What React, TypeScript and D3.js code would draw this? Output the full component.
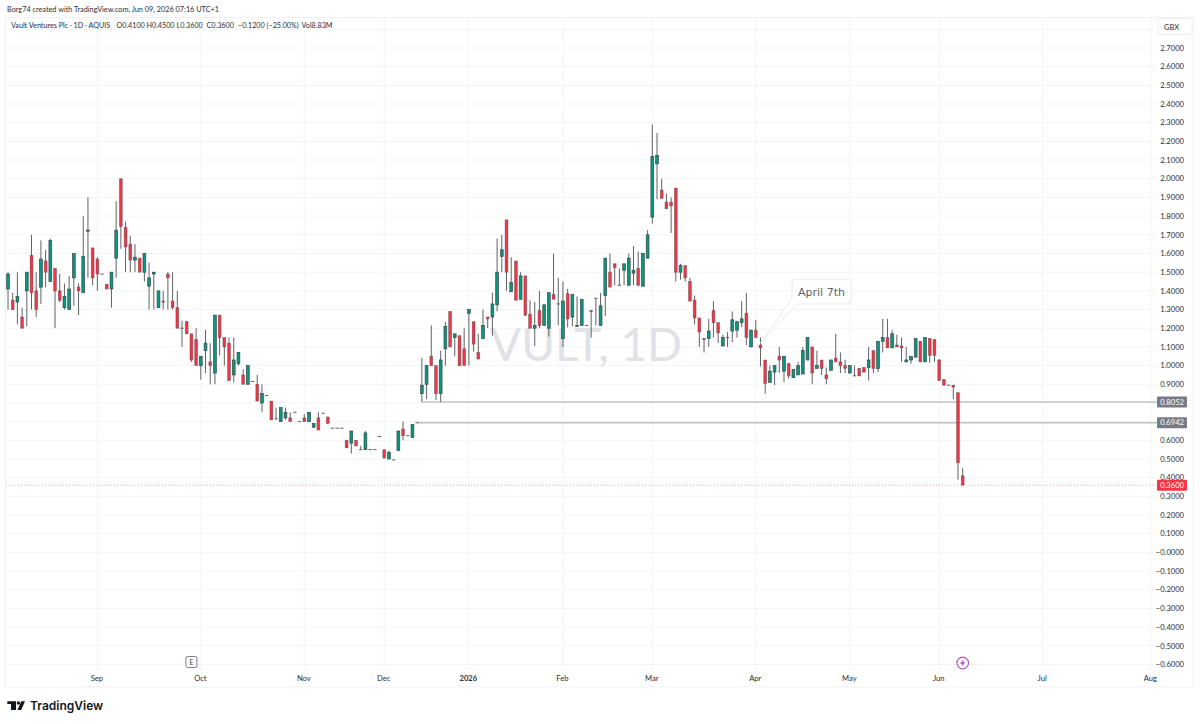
import * as d3 from "d3";

const WIDTH = 1200;
const HEIGHT = 724;
const FONT = "Lato, 'Open Sans', sans-serif";

const GREEN = "#089981";
const RED = "#f23645";
const BORDER = "#3c4043";
const GRID = "#f3f4f6";
const TEXT = "#2a2e39";

// daily candles, in blocks of ten
const opens = [
  1.41, 1.35, 1.34, 1.26, 1.4, 1.59, 1.4, 1.42, 1.56, 1.45,
  1.52, 1.4, 1.31, 1.3, 1.47, 1.42, 1.39, 1.72, 1.63, 1.57,
  1.49, 1.435, 1.41, 1.575, 2.0, 1.74, 1.65, 1.565, 1.575, 1.5,
  1.425, 1.49, 1.31, 1.345, 1.49, 1.345, 1.31, 1.2, 1.235, 1.17,
  1.14, 1.0, 1.08, 1.02, 0.96, 1.27, 1.15, 1.12, 0.95, 1.01,
  0.95, 0.9, 0.915, 0.9, 0.8, 0.84, 0.81, 0.715, 0.7, 0.72,
  0.72, 0.75, 0.7, 0.72, 0.7, 0.67, 0.72, 0.745, 0.725, 0.665,
  0.665, 0.665, 0.6, 0.585, 0.6, 0.55, 0.55, 0.55, 0.55, 0.62,
  0.55, 0.5, 0.495, 0.545, 0.66, 0.625, 0.615, 0.694, 0.85, 0.9,
  1.05, 1.0, 0.85, 1.09, 1.29, 1.15, 1.16, 1.09, 1.28, 1.235,
  1.07, 1.145, 1.26, 1.26, 1.325, 1.585, 1.78, 1.395, 1.56, 1.355,
  1.48, 1.275, 1.2, 1.295, 1.215, 1.2, 1.38, 1.33, 1.145, 1.385,
  1.26, 1.21, 1.215, 1.215, 1.295, 1.36, 1.215, 1.375, 1.5, 1.545,
  1.43, 1.51, 1.43, 1.495, 1.52, 1.425, 1.575, 1.795, 2.08, 1.94,
  1.875, 1.875, 1.95, 1.5, 1.535, 1.45, 1.35, 1.255, 1.145, 1.145,
  1.295, 1.23, 1.105, 1.15, 1.185, 1.19, 1.23, 1.28, 1.1, 1.19,
  1.11, 1.03, 0.91, 0.965, 1.05, 0.97, 1.01, 0.935, 0.95, 0.955,
  1.03, 1.1, 0.985, 1.03, 0.95, 0.975, 1.04, 1.02, 1.0, 0.96,
  0.945, 0.985, 0.99, 0.99, 1.08, 0.985, 1.13, 1.15, 1.095, 1.11,
  1.105, 1.02, 1.03, 1.045, 1.13, 1.02, 1.145, 1.14, 1.03, 0.925,
  0.895, 0.895, 0.855, 0.41,
];
const highs = [
  1.5, 1.39, 1.5, 1.31, 1.5, 1.7, 1.5, 1.67, 1.62, 1.68,
  1.52, 1.49, 1.44, 1.48, 1.6, 1.44, 1.8, 1.9, 1.63, 1.58,
  1.49, 1.435, 1.5, 1.88, 2.0, 1.77, 1.695, 1.65, 1.575, 1.6,
  1.55, 1.5, 1.4, 1.4, 1.5, 1.5, 1.4, 1.24, 1.24, 1.17,
  1.2, 1.05, 1.19, 1.12, 1.27, 1.27, 1.15, 1.15, 1.15, 1.07,
  0.98, 1.0, 0.915, 0.95, 0.9, 0.84, 0.81, 0.775, 0.775, 0.775,
  0.75, 0.75, 0.7, 0.74, 0.75, 0.69, 0.75, 0.745, 0.725, 0.665,
  0.665, 0.665, 0.6, 0.65, 0.6, 0.57, 0.65, 0.55, 0.55, 0.62,
  0.55, 0.545, 0.495, 0.65, 0.7, 0.625, 0.685, 0.694, 1.04, 1.0,
  1.215, 1.0, 1.08, 1.235, 1.29, 1.17, 1.16, 1.2, 1.3, 1.235,
  1.17, 1.3, 1.26, 1.39, 1.68, 1.7, 1.78, 1.58, 1.56, 1.5,
  1.48, 1.35, 1.34, 1.4, 1.33, 1.39, 1.6, 1.47, 1.45, 1.41,
  1.38, 1.37, 1.355, 1.215, 1.295, 1.36, 1.39, 1.575, 1.6, 1.545,
  1.52, 1.545, 1.6, 1.64, 1.61, 1.6, 1.725, 2.29, 2.245, 2.0,
  1.92, 1.9, 1.95, 1.545, 1.535, 1.47, 1.375, 1.255, 1.145, 1.25,
  1.345, 1.23, 1.165, 1.18, 1.29, 1.24, 1.345, 1.39, 1.19, 1.245,
  1.15, 1.03, 1.0, 1.0, 1.1, 1.05, 1.015, 0.98, 1.02, 1.1,
  1.15, 1.1, 1.08, 1.03, 0.99, 1.03, 1.17, 1.07, 1.03, 1.0,
  1.0, 0.985, 0.99, 1.1, 1.08, 1.13, 1.25, 1.25, 1.19, 1.165,
  1.15, 1.1, 1.05, 1.145, 1.13, 1.15, 1.145, 1.14, 1.035, 0.925,
  0.895, 0.895, 0.855, 0.45,
];
const lows = [
  1.3, 1.3, 1.22, 1.2, 1.21, 1.3, 1.26, 1.33, 1.42, 1.45,
  1.2, 1.34, 1.3, 1.3, 1.32, 1.27, 1.39, 1.47, 1.43, 1.4,
  1.49, 1.41, 1.31, 1.47, 1.625, 1.5, 1.5, 1.5, 1.5, 1.45,
  1.3, 1.3, 1.31, 1.3, 1.3, 1.3, 1.2, 1.1, 1.17, 1.02,
  1.0, 0.925, 0.96, 0.9, 0.9, 1.055, 1.0, 0.92, 0.91, 1.0,
  0.9, 0.9, 0.915, 0.81, 0.75, 0.84, 0.71, 0.71, 0.7, 0.71,
  0.7, 0.75, 0.7, 0.7, 0.7, 0.67, 0.655, 0.745, 0.69, 0.665,
  0.665, 0.665, 0.56, 0.53, 0.57, 0.55, 0.55, 0.55, 0.55, 0.62,
  0.505, 0.5, 0.495, 0.545, 0.6, 0.625, 0.615, 0.694, 0.805, 0.82,
  1.0, 0.815, 0.805, 1.0, 1.1, 1.05, 1.0, 1.0, 1.0, 1.075,
  1.035, 1.145, 1.2, 1.16, 1.29, 1.5, 1.4, 1.395, 1.35, 1.355,
  1.265, 1.2, 1.105, 1.2, 1.215, 1.155, 1.355, 1.215, 1.1, 1.205,
  1.21, 1.21, 1.215, 1.215, 1.15, 1.215, 1.215, 1.265, 1.42, 1.43,
  1.43, 1.43, 1.43, 1.43, 1.425, 1.425, 1.575, 1.76, 1.89, 1.895,
  1.84, 1.71, 1.45, 1.46, 1.45, 1.345, 1.22, 1.1, 1.07, 1.1,
  1.15, 1.12, 1.105, 1.1, 1.125, 1.15, 1.205, 1.11, 1.1, 1.15,
  0.995, 0.85, 0.91, 0.895, 0.96, 0.91, 0.93, 0.935, 0.95, 0.955,
  1.03, 0.9, 0.985, 0.95, 0.9, 0.975, 1.02, 0.96, 0.96, 0.96,
  0.945, 0.945, 0.965, 0.92, 0.96, 0.965, 1.07, 1.095, 1.095, 1.1,
  1.02, 1.02, 1.01, 1.045, 1.02, 1.02, 1.015, 1.02, 0.92, 0.895,
  0.895, 0.82, 0.39, 0.36,
];
const closes = [
  1.49, 1.3, 1.37, 1.2, 1.5, 1.39, 1.3, 1.57, 1.5, 1.67,
  1.4, 1.35, 1.37, 1.41, 1.6, 1.4, 1.585, 1.725, 1.47, 1.49,
  1.49, 1.41, 1.5, 1.725, 1.745, 1.635, 1.565, 1.58, 1.5, 1.6,
  1.47, 1.5, 1.4, 1.34, 1.47, 1.31, 1.2, 1.2, 1.17, 1.03,
  1.0, 1.05, 1.12, 1.0, 1.27, 1.15, 1.1, 0.92, 1.03, 1.07,
  0.9, 1.0, 0.915, 0.81, 0.85, 0.84, 0.71, 0.715, 0.775, 0.75,
  0.7, 0.75, 0.7, 0.7, 0.75, 0.69, 0.655, 0.745, 0.69, 0.665,
  0.665, 0.665, 0.56, 0.65, 0.57, 0.55, 0.64, 0.55, 0.55, 0.62,
  0.505, 0.535, 0.495, 0.65, 0.625, 0.625, 0.685, 0.694, 0.895, 1.0,
  1.0, 0.85, 1.03, 1.21, 1.1, 1.17, 1.0, 1.0, 1.3, 1.115,
  1.035, 1.215, 1.25, 1.33, 1.5, 1.62, 1.5, 1.445, 1.35, 1.48,
  1.27, 1.2, 1.215, 1.215, 1.325, 1.39, 1.355, 1.33, 1.345, 1.25,
  1.38, 1.215, 1.355, 1.215, 1.29, 1.36, 1.32, 1.575, 1.42, 1.525,
  1.43, 1.545, 1.575, 1.51, 1.43, 1.6, 1.7, 2.12, 2.125, 1.895,
  1.84, 1.855, 1.5, 1.535, 1.47, 1.345, 1.255, 1.18, 1.14, 1.185,
  1.23, 1.175, 1.15, 1.15, 1.245, 1.235, 1.25, 1.15, 1.19, 1.15,
  1.095, 0.905, 0.97, 1.0, 1.03, 1.05, 0.945, 0.98, 1.0, 1.08,
  1.15, 0.96, 1.0, 0.985, 0.93, 1.03, 1.02, 1.0, 0.985, 1.0,
  0.945, 0.945, 0.965, 1.03, 0.985, 1.13, 1.15, 1.095, 1.17, 1.1,
  1.095, 1.03, 1.05, 1.145, 1.02, 1.15, 1.055, 1.055, 0.92, 0.895,
  0.895, 0.885, 0.48, 0.36,
];

const monthLabels = ["Sep", "Oct", "Nov", "Dec", "2026", "Feb", "Mar", "Apr", "May", "Jun", "Jul", "Aug"];
const monthIndexes = [19, 41, 63, 80, 98, 118, 137, 159, 179, 198, 220, 243];
const priceTicks = d3.range(27, -7, -1).map((d) => d / 10);
const gridTicks = d3.range(28, -7, -1).map((d) => d / 10);

// legend pieces of the second header line
const legendParts = ["Vault Ventures Plc · 1D · AQUIS", "O0.4100", "H0.4500", "L0.3600", "C0.3600", "−0.1200 (−25.00%)", "Vol8.83M"];
const legendStarts = [11, 116.5, 146.5, 176.5, 206.5, 238, 301.5];

const LEVEL_UPPER = 0.8052;
const LEVEL_LOWER = 0.6942;
const LAST_PRICE = 0.36;

const xScale = d3.scaleLinear().domain([0, 203]).range([8, 962.7]);
const yScale = d3.scaleLinear().domain([2.7, -0.6]).range([48, 664.5]);

const fmt = (v: number) => (v <= 0 ? "\u2212" : "") + Math.abs(v).toFixed(4);

const PLOT_LEFT = 6;
const PLOT_RIGHT = 1157;

const PriceTag = ({ value, fill }: { value: number; fill: string }) => (
  <g>
    <rect x={PLOT_RIGHT} y={yScale(value) - 5.5} width={30} height={11} fill={fill} rx={1} />
    <text x={1184} y={yScale(value) + 2.7} fill="#fff" fontSize={7.6} textAnchor="end">
      {value.toFixed(4)}
    </text>
  </g>
);

export default function App() {
  const ax = xScale(160);
  const ay = yScale(1.12);
  const bx = xScale(203);

  return (
    <svg
      width={WIDTH}
      height={HEIGHT}
      viewBox={`0 0 ${WIDTH} ${HEIGHT}`}
      style={{ position: "absolute", left: 0, top: 0, background: "#fff" }}
      fontFamily={FONT}
    >
      {/* frame */}
      <rect x={5.5} y={17.5} width={1188} height={669.5} fill="#fff" stroke="#f0f1f3" />

      {/* grid */}
      {gridTicks.map((t) => (
        <line key={t} x1={PLOT_LEFT} x2={PLOT_RIGHT} y1={yScale(t)} y2={yScale(t)} stroke={GRID} />
      ))}
      {monthIndexes.map((m) => (
        <line key={m} x1={xScale(m)} x2={xScale(m)} y1={18} y2={670} stroke={GRID} />
      ))}

      {/* watermark */}
      <text x={490} y={361} fontSize={46} fill="#e0e2e7">
        VULT, 1D
      </text>

      {/* level rays */}
      <line x1={xScale(88)} x2={PLOT_RIGHT} y1={yScale(LEVEL_UPPER)} y2={yScale(LEVEL_UPPER)} stroke="#9f9f9f" strokeWidth={0.9} />
      <line x1={xScale(87)} x2={PLOT_RIGHT} y1={yScale(LEVEL_LOWER)} y2={yScale(LEVEL_LOWER)} stroke="#c0c0c0" strokeWidth={1.5} />
      <line x1={PLOT_LEFT} x2={PLOT_RIGHT} y1={yScale(LAST_PRICE)} y2={yScale(LAST_PRICE)} stroke={RED} strokeWidth={0.7} strokeDasharray="1 2" opacity={0.6} />

      {/* candles */}
      {opens.map((o, i) => {
        const c = closes[i];
        const x = xScale(i);
        const top = yScale(Math.max(o, c));
        const bottom = yScale(Math.min(o, c));
        const flat = bottom - top < 0.5;
        return (
          <g key={i}>
            <line x1={x} x2={x} y1={yScale(highs[i])} y2={yScale(lows[i])} stroke="#5f6266" strokeWidth={1} />
            {flat ? (
              <line x1={x - 1.7} x2={x + 1.7} y1={top} y2={top} stroke="#5f6266" strokeWidth={1} />
            ) : (
              <rect
                x={x - 1.4}
                y={top}
                width={2.8}
                height={Math.max(bottom - top, 1)}
                fill={c >= o ? GREEN : RED}
                stroke={BORDER}
                strokeOpacity={c >= o ? 0.95 : 0.55}
                strokeWidth={0.7}
              />
            )}
          </g>
        );
      })}

      {/* April 7th callout */}
      <path
        d={`M${ax},${ay} L792,298 L792,283 Q792,279 796,279 L847,279 Q851,279 851,283 L851,300 Q851,304 847,304 L797,304 Z`}
        fill="#fff"
        fillOpacity={0.95}
        stroke="#e4e6eb"
        strokeWidth={0.9}
      />
      <text x={821.5} y={296} fill="#5d606b" textAnchor="middle" fontFamily="'DejaVu Sans', sans-serif" fontSize={11}>
        April 7th
      </text>

      {/* price axis */}
      <rect x={1158} y={18.5} width={34} height={16} rx={3} fill="#fff" stroke="#eceef1" />
      <text x={1171.5} y={29.5} fontSize={7.4} fill={TEXT} textAnchor="middle">GBX</text>
      {priceTicks.map((t) => (
        <text key={t} x={1184} y={yScale(t) + 2.7} fontSize={7.6} fill={TEXT} textAnchor="end">
          {fmt(t)}
        </text>
      ))}
      <PriceTag value={LEVEL_UPPER} fill="#787b86" />
      <PriceTag value={LEVEL_LOWER} fill="#787b86" />
      <PriceTag value={LAST_PRICE} fill={RED} />

      {/* time axis */}
      {monthLabels.map((label, i) => (
        <text
          key={label}
          x={xScale(monthIndexes[i]) - 0.5}
          y={681}
          fontSize={7.6}
          fill={TEXT}
          textAnchor="middle"
          fontWeight={label === "2026" ? 700 : 400}
        >
          {label}
        </text>
      ))}

      {/* earnings marker */}
      <rect x={xScale(39) - 5.5} y={656.5} width={11} height={11} rx={1.5} fill="#fff" stroke="#6f727c" strokeWidth={0.9} />
      <text x={xScale(39)} y={664.6} fontSize={6.8} fill={TEXT} textAnchor="middle">E</text>

      {/* dividends/news marker */}
      <circle cx={bx} cy={663} r={5.8} fill="#fff" stroke="#b94fd1" strokeWidth={1.2} />
      <path
        d={`M${bx + 1.3},659.2 L${bx - 2.8},663.8 L${bx - 0.5},663.8 L${bx - 1.3},666.8 L${bx + 2.8},662.2 L${bx + 0.5},662.2 Z`}
        fill="#b94fd1"
      />

      {/* header */}
      <text x={7} y={11.5} fontSize={7.3} fill={TEXT}>
        Borg74 created with TradingView.com, Jun 09, 2026 07:16 UTC+1
      </text>
      {legendParts.map((part, i) => (
        <text key={part} x={legendStarts[i]} y={28} fontSize={7.2} fill={TEXT}>
          {part}
        </text>
      ))}

      {/* logo */}
      <path d="M7.3,701.3 H16 V710 H11 V704 H7.3 Z" fill="#131722" />
      <circle cx={18.4} cy={703} r={1.7} fill="#131722" />
      <path d="M21.3,701.3 H25 L21.2,710 H17.4 Z" fill="#131722" />
      <text x={30} y={710} fontSize={12} fontWeight={600} fill="#131722" fontFamily="Inter, sans-serif">
        TradingView
      </text>
    </svg>
  );
}
